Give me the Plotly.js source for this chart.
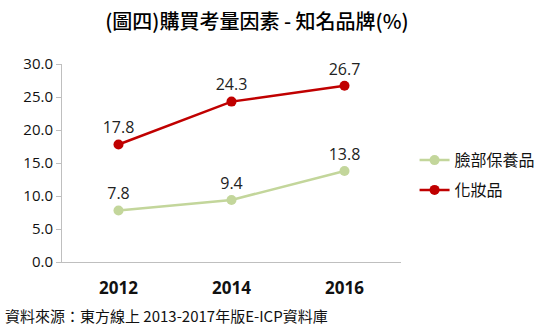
<!DOCTYPE html>
<html><head><meta charset="utf-8">
<script src="https://cdn.plot.ly/plotly-3.0.1.min.js"></script>
<style>body{margin:0}#c{width:553px;height:332px}</style>
</head><body><div id="c"></div>
<script>
const years = ['2012','2014','2016'];
const faceCare = [7.8, 9.4, 13.8];
const cosmetics = [17.8, 24.3, 26.7];
const seriesNames = ['臉部保養品','化妝品'];
const yTicks = [0,5,10,15,20,25,30];
const F = '"Open Sans","Noto Sans CJK TC",sans-serif';
const mk = (y, name, color, g) => ({
  x: years, y: y, name: name, type: 'scatter', mode: 'lines+markers+text', legendgroup: g,
  line: {color: color, width: 2.5}, marker: {color: color, size: 10},
  text: y.map(v => v.toFixed(1)), textposition: 'top center',
  textfont: {family: F, size: 16, color: '#222'}, cliponaxis: false
});
Plotly.newPlot('c', [mk(faceCare, seriesNames[0], '#C3D69B', 'a'), mk(cosmetics, seriesNames[1], '#C00000', 'b')], {
  width: 553, height: 332,
  margin: {l: 62, r: 150, t: 64, b: 70},
  paper_bgcolor: '#fff', plot_bgcolor: '#fff',
  title: {text: '(圖四)購買考量因素 - 知名品牌(%)', x: 0.575, xref: 'paper', xanchor: 'center', y: 0.935, yanchor: 'middle',
    font: {family: '"Noto Sans CJK TC",sans-serif', size: 20, color: '#000', weight: 500}},
  xaxis: {type: 'category', range: [-0.5, 2.5], showgrid: false, showline: true, linecolor: '#bfbfbf',
    zeroline: false, ticks: '', ticklabelstandoff: 11, tickfont: {family: F, size: 17, color: '#111', weight: 'bold'}},
  yaxis: {range: [0, 30], tickvals: yTicks, ticktext: yTicks.map(v => v.toFixed(1)), showgrid: false,
    showline: true, linecolor: '#bfbfbf', zeroline: false, ticks: 'outside', ticklen: 5, tickcolor: '#bfbfbf',
    tickfont: {family: F, size: 15, color: '#111'}},
  showlegend: true,
  legend: {x: 1.04, xanchor: 'left', y: 0.6, yanchor: 'top', traceorder: 'grouped',
    font: {family: '"Noto Sans CJK TC",sans-serif', size: 16, color: '#111'},
    tracegroupgap: 6, itemwidth: 30},
  annotations: [{text: '資料來源：東方線上 2013-2017年版E-ICP資料庫', xref: 'paper', yref: 'paper', x: -0.175, xanchor: 'left',
    y: -0.27, yanchor: 'middle', showarrow: false, font: {family: '"Noto Sans CJK TC",sans-serif', size: 15, color: '#111'}}]
}, {displayModeBar: false, staticPlot: true});
</script></body></html>
